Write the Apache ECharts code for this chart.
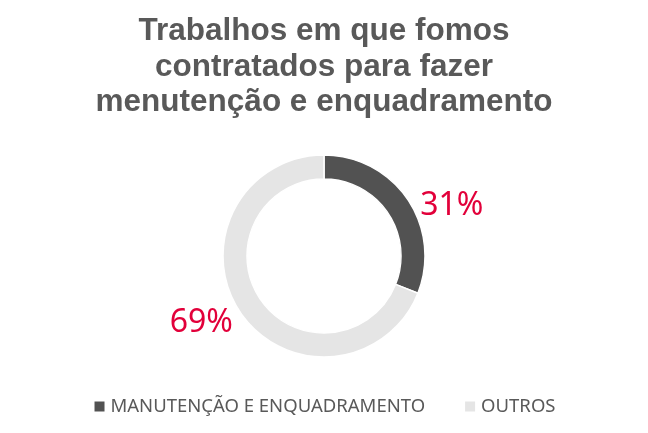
<!DOCTYPE html>
<html><head><meta charset="utf-8">
<script src="https://cdn.jsdelivr.net/npm/echarts@6/dist/echarts.min.js"></script>
<style>html,body{margin:0;padding:0;background:#fff}#c{width:648px;height:433px}</style>
</head><body><div id="c"></div>
<script>
const categories = ['MANUTENÇÃO E ENQUADRAMENTO', 'OUTROS'];
const values = [31, 69];
const colors = ['#525252', '#E5E5E5'];
const chart = echarts.init(document.getElementById('c'));
chart.setOption({
  animation: false,
  title: {
    text: 'Trabalhos em que fomos\ncontratados para fazer\nmenutenção e enquadramento',
    left: 'center', top: 9,
    textStyle: { fontFamily: 'Liberation Sans', fontWeight: 'bold', fontSize: 31.5, lineHeight: 35.5, color: '#595959', align: 'center' }
  },
  legend: {
    bottom: 12, left: 'center', itemWidth: 12, itemHeight: 12, itemGap: 38,
    icon: 'rect',
    textStyle: { fontFamily: 'Noto Sans', fontSize: 18.5, color: '#595959' },
    data: categories
  },
  series: [{
    type: 'pie', center: [324, 256], radius: [77, 101], startAngle: 90, clockwise: true,
    itemStyle: { borderColor: '#fff', borderWidth: 1.5 },
    label: {
      show: true, position: 'outside', distanceToLabelLine: 0,
      formatter: p => (p.dataIndex === 0 ? '{s0|}' : '{s1|}') + '\n{v|' + p.percent + '%}',
      rich: {
        s0: { lineHeight: 22, fontSize: 1 },
        s1: { lineHeight: 12, fontSize: 1 },
        v: { fontFamily: 'Noto Sans', fontSize: 32, lineHeight: 36, color: '#E2003A' }
      }
    },
    labelLine: { show: false, length: 8, length2: 6 },
    data: categories.map((n, i) => ({
      name: n, value: values[i], itemStyle: { color: colors[i] },
      labelLine: i === 0 ? {} : { length2: 1 }
    }))
  }]
});
</script></body></html>
